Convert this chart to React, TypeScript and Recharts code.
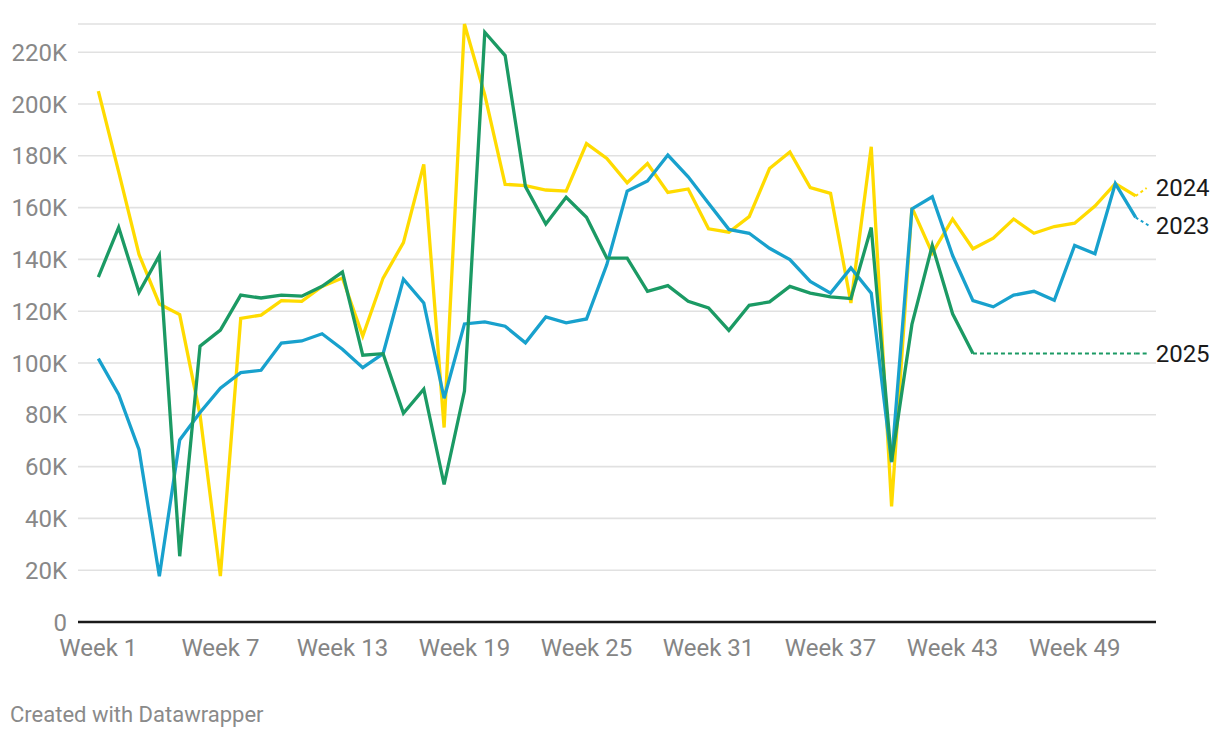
import React from "react";
import { LineChart, Line, XAxis, YAxis, CartesianGrid, LabelList } from "recharts";

// weekly values, in thousands
const weeks = Array.from({ length: 52 }, (_, i) => i + 1);

const y2024 = [
  205.0, 173.8, 141.9, 122.8, 118.7, 80.0, 17.7, 117.2, 118.5, 124.1,
  123.8, 129.6, 132.8, 110.4, 132.8, 146.5, 176.7, 75.1, 230.9, 203.5,
  169.0, 168.5, 166.8, 166.4, 184.7, 179.0, 169.6, 177.0, 165.9, 167.2,
  151.8, 150.5, 156.5, 175.1, 181.5, 167.7, 165.5, 123.2, 183.5, 44.6,
  160.0, 142.4, 155.6, 144.1, 148.2, 155.6, 150.1, 152.7, 154.0, 160.6,
  169.3, 164.5,
];

const y2023 = [
  101.7, 87.9, 66.5, 17.7, 70.3, 80.9, 90.3, 96.3, 97.2, 107.7,
  108.5, 111.3, 105.3, 98.2, 103.6, 132.4, 123.2, 86.4, 115.1, 115.9,
  114.2, 107.8, 117.8, 115.5, 117.0, 138.0, 166.4, 170.3, 180.3, 171.9,
  161.7, 151.6, 150.1, 144.3, 139.9, 131.5, 127.0, 136.7, 127.0, 61.7,
  159.5, 164.2, 141.5, 124.1, 121.7, 126.2, 127.7, 124.2, 145.4, 142.2,
  169.3, 156.2,
];

// 2025 only runs to week 44
const y2025 = [
  133.2, 152.4, 127.3, 141.5, 25.4, 106.5, 112.7, 126.2, 125.1, 126.2,
  125.8, 129.6, 135.1, 103.0, 103.6, 80.6, 89.9, 53.1, 89.2, 227.7,
  218.7, 168.1, 153.7, 164.0, 156.3, 140.5, 140.5, 127.7, 129.9, 123.8,
  121.3, 112.6, 122.3, 123.6, 129.6, 127.0, 125.5, 124.9, 152.3, 62.0,
  114.9, 145.4, 119.0, 103.7,
];

const xTicks = [1, 7, 13, 19, 25, 31, 37, 43, 49];
const yTicks = [0, 20, 40, 60, 80, 100, 120, 140, 160, 180, 200, 220].map((v) => v * 1000);

const last2025 = y2025[y2025.length - 1];

const data = weeks.map((w, i) => ({
  week: w,
  y2024: y2024[i] * 1000,
  y2023: y2023[i] * 1000,
  y2025: i < y2025.length ? y2025[i] * 1000 : null,
  // dotted carry-forward of the latest 2025 value
  p2025: i >= y2025.length - 1 ? last2025 * 1000 : null,
}));

const YELLOW = "#ffdb00";
const BLUE = "#18a1cd";
const GREEN = "#1b9a64";
const FONT = "Roboto, 'Noto Sans', sans-serif";

function endLabel(text: string, color: string, dy: number, dash: string, reach: number) {
  return (props: any) => {
    const { x, y, index } = props;
    if (index !== weeks.length - 1 || x == null || y == null) return null;
    return (
      <g>
        <line
          x1={x}
          y1={y}
          x2={x + reach}
          y2={y + dy}
          stroke={color}
          strokeWidth={2}
          strokeDasharray={dash}
        />
        <text
          x={x + 20}
          y={y + dy}
          dy="0.35em"
          fill="#1a1a1a"
          fontSize={24}
          fontFamily={FONT}
        >
          {text}
        </text>
      </g>
    );
  };
}

export default function App() {
  return (
    <div
      style={{
        position: "absolute",
        left: 0,
        top: 0,
        width: 1220,
        height: 738,
        background: "#fff",
        fontFamily: FONT,
      }}
    >
      <LineChart
        width={1220}
        height={680}
        data={data}
        margin={{ top: 24, right: 64, bottom: 0, left: 0 }}
      >
        <CartesianGrid vertical={false} stroke="#e1e1e1" strokeWidth={1.6} />
        <XAxis
          dataKey="week"
          type="number"
          domain={[0, 53]}
          ticks={xTicks}
          tickFormatter={(w) => `Week ${w}`}
          interval={0}
          height={58}
          tickLine={false}
          tickSize={0}
          tickMargin={17}
          axisLine={{ stroke: "#1a1a1a", strokeWidth: 2.5 }}
          tick={{ fontSize: 24, fill: "#858585", fontFamily: FONT }}
        />
        <YAxis
          type="number"
          domain={[0, 230000]}
          ticks={yTicks}
          interval={0}
          width={78}
          tickFormatter={(v) => (v === 0 ? "0" : `${v / 1000}K`)}
          axisLine={false}
          tickLine={false}
          tickSize={0}
          tickMargin={11}
          tick={{ fontSize: 24, fill: "#888888", fontFamily: FONT }}
        />
        <Line
          dataKey="y2024"
          stroke={YELLOW}
          strokeWidth={3.3}
          dot={false}
          activeDot={false}
          type="linear"
          isAnimationActive={false}
        >
          <LabelList dataKey="y2024" content={endLabel("2024", YELLOW, -8, "3 3", 11)} />
        </Line>
        <Line
          dataKey="y2023"
          stroke={BLUE}
          strokeWidth={3.3}
          dot={false}
          activeDot={false}
          type="linear"
          isAnimationActive={false}
        >
          <LabelList dataKey="y2023" content={endLabel("2023", BLUE, 8, "3 3", 13)} />
        </Line>
        <Line
          dataKey="p2025"
          stroke={GREEN}
          strokeWidth={2}
          strokeDasharray="4 3"
          dot={false}
          activeDot={false}
          type="linear"
          connectNulls={false}
          isAnimationActive={false}
        >
          <LabelList dataKey="p2025" content={endLabel("2025", GREEN, 0, "4 3", 13)} />
        </Line>
        <Line
          dataKey="y2025"
          stroke={GREEN}
          strokeWidth={3.3}
          dot={false}
          activeDot={false}
          type="linear"
          isAnimationActive={false}
        />
      </LineChart>
      <div
        style={{
          position: "absolute",
          left: 10,
          top: 703,
          fontSize: 22,
          lineHeight: "24px",
          color: "#8a8a8a",
          fontFamily: FONT,
        }}
      >
        Created with Datawrapper
      </div>
    </div>
  );
}
